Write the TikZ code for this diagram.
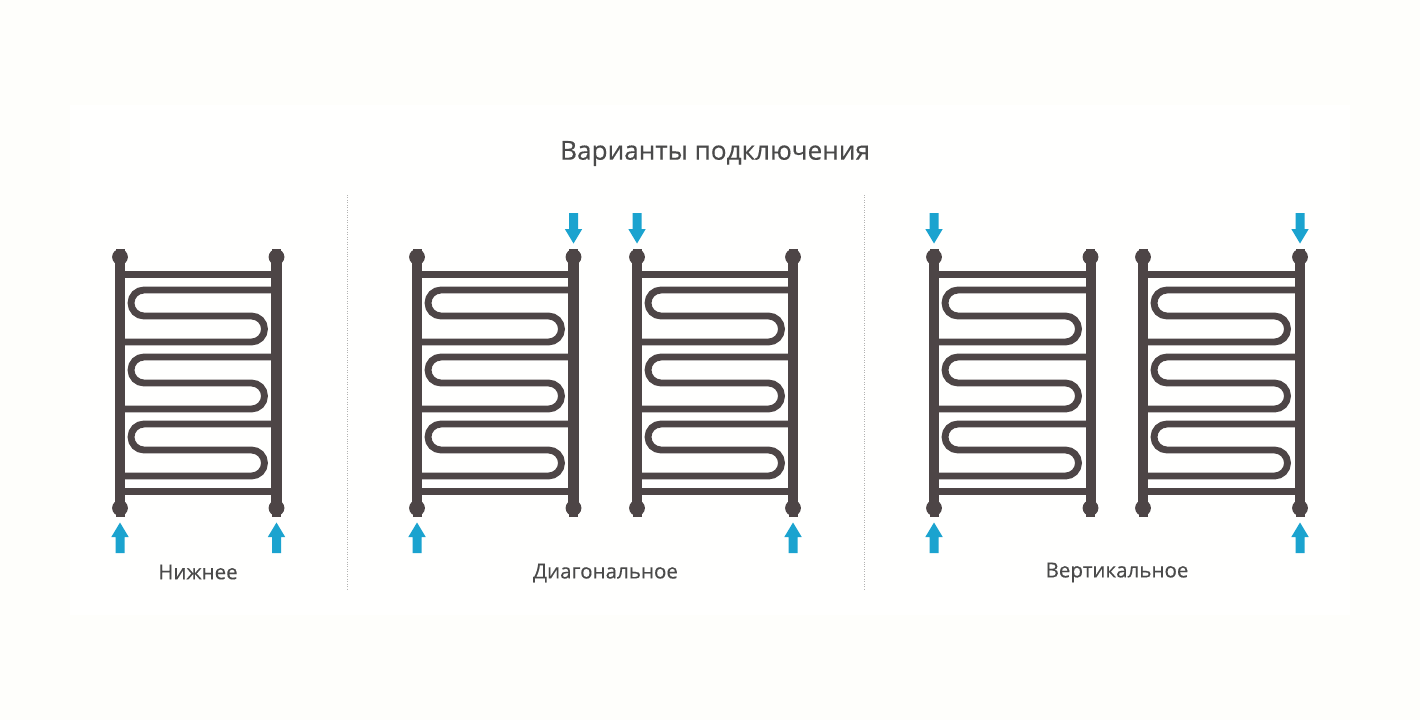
\documentclass[tikz,border=0pt]{standalone}
\usepackage{fontspec}
\setmainfont{Open Sans}[FakeBold=0.35]
\usepackage{tikz}

\definecolor{railgray}{HTML}{4D4546}
\definecolor{flowblue}{HTML}{1BA3CF}
\definecolor{textgray}{HTML}{4A4A4A}
\definecolor{paperout}{HTML}{FEFEFB}
\definecolor{paperin}{HTML}{FFFFFE}

\tikzset{
  post/.style={railgray,line width=5.7pt},
  bar/.style={railgray,line width=3.9pt},
  knob/.style={railgray,fill=railgray},
  flow/.style={flowblue,fill=flowblue},
  divider/.style={gray!60,densely dotted,line width=0.4pt},
  caption/.style={textgray,font=\fontsize{11.7}{14}\selectfont,inner sep=0pt},
}

% one towel rail, #1 = left post, #2 = right post
\newcommand{\towelrail}[2]{
  \draw[post] (#1,257) -- (#1,508);
  \draw[post] (#2,257) -- (#2,508);
  \foreach \knobx in {#1,#2}{
    \foreach \knoby/\capy in {257/248.5,508/516.5}{
      \fill[knob] (\knobx,\knoby) circle (7.9);
      \fill[knob] (\knobx-4.5,\capy) rectangle (\knobx+4.5,\knoby);
    }
  }
  % straight bars
  \draw[bar] (#1,274.5) -- (#2,274.5);
  \draw[bar] (#1,491.5) -- (#2,491.5);
  % three bends
  \foreach \bendy in {290,357,424}{
    \draw[bar] (#2,\bendy) -- (#1+24,\bendy)
      arc[start angle=270,end angle=90,radius=13] -- (#1+131.5,\bendy+26)
      arc[start angle=-90,end angle=90,radius=13] -- (#1,\bendy+52);
  }
}
% flow arrows, #1 = axis
\newcommand{\flowup}[1]{
  \fill[flow] (#1-4.5,553) -- (#1-4.5,537) -- (#1-8.7,537) -- (#1,522.5)
    -- (#1+8.7,537) -- (#1+4.5,537) -- (#1+4.5,553) -- cycle;
}
\newcommand{\flowdown}[1]{
  \fill[flow] (#1-4.5,213) -- (#1-4.5,229) -- (#1-8.7,229) -- (#1,243.5)
    -- (#1+8.7,229) -- (#1+4.5,229) -- (#1+4.5,213) -- cycle;
}

\begin{document}
\begin{tikzpicture}[x=0.02cm,y=-0.02cm]
  % Paper
  \useasboundingbox (0,0) rectangle (1420,720);
  \fill[paperout] (0,0) rectangle (1420,720);
  \fill[paperin] (70,105) rectangle (1350,615);

  % Title
  \node[caption,font=\fontsize{14.9}{17}\selectfont] (title) at (715,153.5) {Варианты подключения};

  % Dividers
  \draw[divider] (347,195) -- (347,590);
  \draw[divider] (864,195) -- (864,590);

  % Rails
  \towelrail{120}{276.5}
  \towelrail{417}{573.5}
  \towelrail{637}{793}
  \towelrail{934}{1090.5}
  \towelrail{1143}{1300}

  % Connections
  \flowup{120} \flowup{276.5}
  \flowup{417} \flowdown{573.5}
  \flowdown{637} \flowup{793}
  \flowdown{934} \flowup{934}
  \flowdown{1300} \flowup{1300}

  % Labels
  \node[caption] (lower) at (198,572) {Нижнее};
  \node[caption] (diagonal) at (605.5,573) {Диагональное};
  \node[caption] (vertical) at (1117,572.5) {Вертикальное};
\end{tikzpicture}
\end{document}
